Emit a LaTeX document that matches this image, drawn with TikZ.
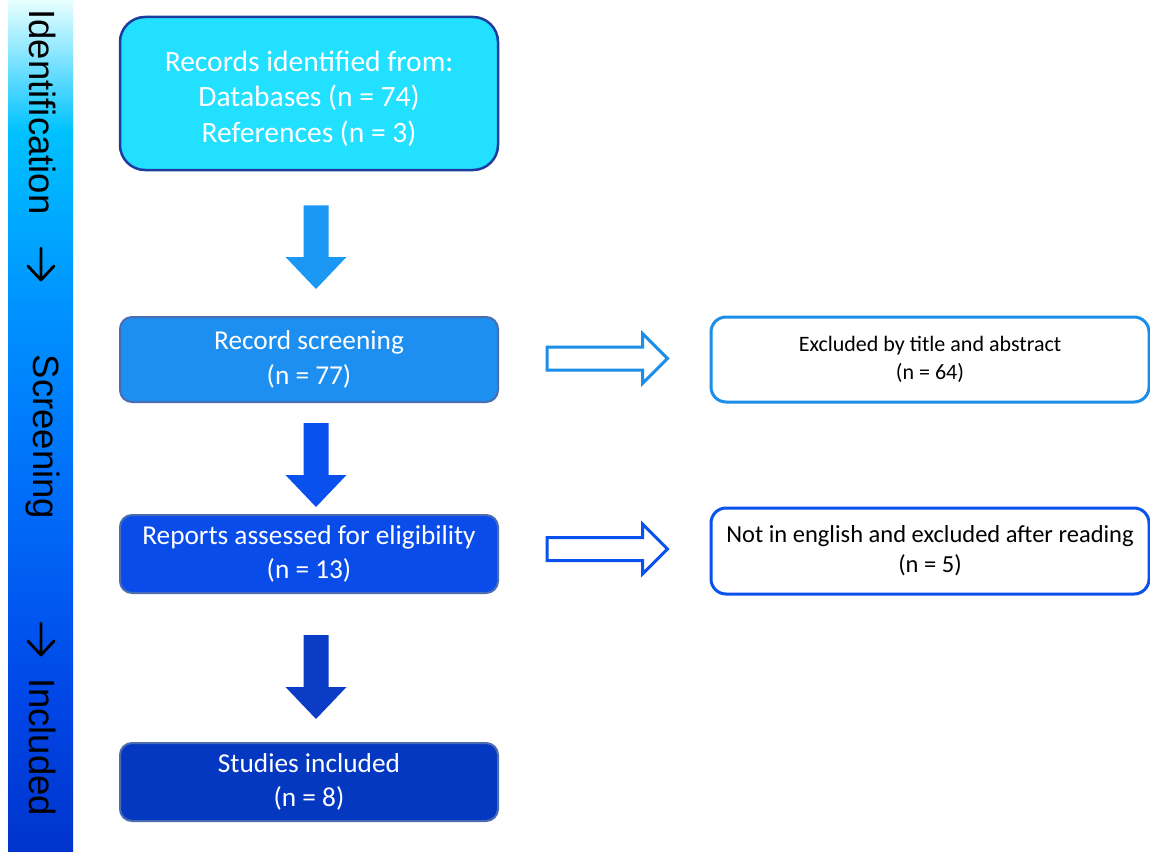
\documentclass[tikz,border=0pt]{standalone}
\usepackage{fontspec}
\setmainfont{Carlito}
\newfontfamily\sidefont{Liberation Sans}
\usetikzlibrary{calc}
\definecolor{sA}{HTML}{E8FFFF}
\definecolor{sB}{HTML}{00C2FF}
\definecolor{sC}{HTML}{0094FF}
\definecolor{sD}{HTML}{0064F6}
\definecolor{sE}{HTML}{0046E6}
\definecolor{sF}{HTML}{0034CC}
\definecolor{fA}{HTML}{22E0FF}
\definecolor{fB}{HTML}{1C8FF0}
\definecolor{fC}{HTML}{0A4CEA}
\definecolor{fD}{HTML}{0538C0}
\definecolor{bdA}{HTML}{1E3C9E}
\definecolor{bdB}{HTML}{4A6CB0}
\definecolor{arA}{HTML}{1A98F4}
\definecolor{arB}{HTML}{0A50EE}
\definecolor{arC}{HTML}{0A3CC6}
\definecolor{exA}{HTML}{1A8EE8}
\definecolor{exB}{HTML}{0A52EE}
\newcommand\downblock[3]{%
  \fill[#3] let \p1=(#1), \p2=(#2) in
    (\x1-12.5pt,\y1) -- (\x1+12.5pt,\y1) -- (\x1+12.5pt,\y2+32pt) --
    (\x1+30.5pt,\y2+32pt) -- (\x2,\y2) -- (\x1-30.5pt,\y2+32pt) --
    (\x1-12.5pt,\y2+32pt) -- cycle;}
\newcommand\rightblock[3]{%
  \draw[line width=3pt, fill=white, draw=#3, line join=miter] let \p1=(#1), \p2=(#2) in
    (\x1,\y1+11.5pt) -- (\x2-25pt,\y1+11.5pt) -- (\x2-25pt,\y1+25pt) --
    (\x2,\y1) -- (\x2-25pt,\y1-25pt) -- (\x2-25pt,\y1-11.5pt) --
    (\x1,\y1-11.5pt) -- cycle;}
\newcommand\sidearrow[1]{%
  \draw[line width=2.8pt, line cap=round, line join=round, black]
    ($(#1)+(0,-16)$) -- ($(#1)+(0,16)$)
    ($(#1)+(-13,2)$) -- ($(#1)+(0,16)$) -- ($(#1)+(13,2)$);}
\tikzset{
  mainbox/.style={rectangle, rounded corners=12pt, minimum width=378pt, align=center,
    text=white, line width=2pt, draw=bdB, inner sep=0pt},
  exbox/.style={rectangle, rounded corners=15pt, minimum width=438pt, align=center,
    text=black, line width=3pt, fill=white, inner sep=0pt},
  sidetext/.style={rotate=-90, font=\sidefont\fontsize{36.5}{40}\selectfont, inner sep=0pt}
}
\begin{document}
\begin{tikzpicture}[x=1pt,y=-1pt]
\useasboundingbox (0,0) rectangle (1150,851);
% sidebar
\shade[top color=sA, bottom color=sB] (8,0) rectangle (73,130.5);
\shade[top color=sB, bottom color=sC] (8,130) rectangle (73,300.5);
\shade[top color=sC, bottom color=sD] (8,300) rectangle (73,540.5);
\shade[top color=sD, bottom color=sE] (8,540) rectangle (73,700.5);
\shade[top color=sE, bottom color=sF] (8,700) rectangle (73,851);
\node[sidetext] (sId) at (43,112) {Identification};
\coordinate (sAr1) at (41,264);
\sidearrow{sAr1}
\node[sidetext] (sSc) at (43,437) {Screening};
\coordinate (sAr2) at (41,639);
\sidearrow{sAr2}
\node[sidetext] (sIn) at (43,747) {Included};
% main boxes
\node[mainbox, rounded corners=25pt, fill=fA, draw=bdA, line width=2.5pt, minimum height=153pt,
  font=\fontsize{29.5}{35.5}\selectfont] (b1) at (309,93.5)
  {\\[-5pt]Records identified from:\\Databases (n = 74)\\References (n = 3)};
\node[mainbox, fill=fB, minimum height=85pt, font=\fontsize{27.3}{35}\selectfont] (b2) at (309,359.5)
  {Record screening\\(n = 77)};
\node[mainbox, fill=fC, minimum height=78pt, font=\fontsize{27.3}{34}\selectfont] (b3) at (309,554)
  {Reports assessed for eligibility\\(n = 13)};
\node[mainbox, fill=fD, minimum height=78pt, font=\fontsize{27.3}{34}\selectfont] (b4) at (309,782)
  {Studies included\\(n = 8)};
% exclusion boxes
\node[exbox, draw=exA, minimum height=85pt, font=\fontsize{22}{28}\selectfont] (b5) at (930,359.5)
  {Excluded by title and abstract\\(n = 64)};
\node[exbox, draw=exB, minimum height=86pt, font=\fontsize{24.5}{30}\selectfont] (b6) at (930,551)
  {Not in english and excluded after reading\\(n = 5)};
% down block arrows
\downblock{$(b1.south)+(7,34)$}{$(b2.north)+(7,-27)$}{arA}
\downblock{$(b2.south)+(7,20)$}{$(b3.north)+(7,-7)$}{arB}
\downblock{$(b3.south)+(7,41)$}{$(b4.north)+(7,-23)$}{arC}
% hollow right arrows
\rightblock{$(b2.east)+(48,-1)$}{$(b5.west)+(-42,-1)$}{exA}
\rightblock{$(b3.east)+(48,-5)$}{$(b6.west)+(-42,-2)$}{exB}
\end{tikzpicture}
\end{document}
